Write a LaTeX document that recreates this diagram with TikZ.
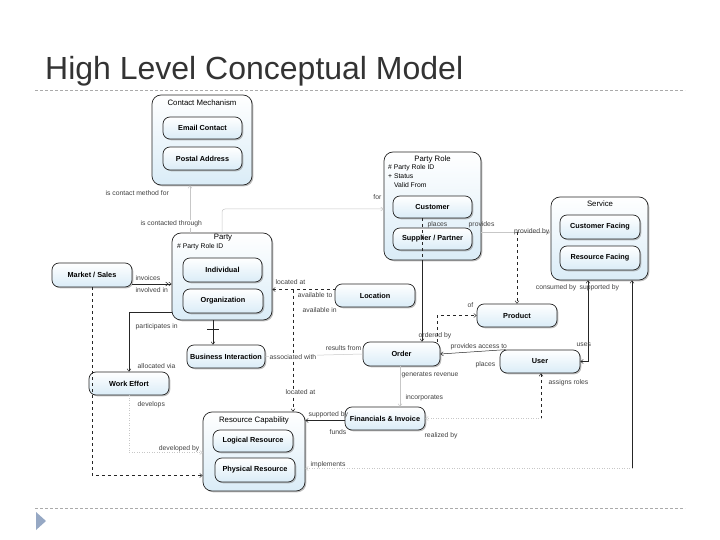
\documentclass[tikz,border=0pt]{standalone}
\usepackage{fontspec}
\setmainfont{Liberation Sans}
\usetikzlibrary{arrows.meta,shadows,calc}
\definecolor{boxblue}{RGB}{218,236,247}
\definecolor{rulegray}{RGB}{170,170,170}
\definecolor{bulletblue}{RGB}{150,168,196}

\begin{document}
\begin{tikzpicture}[
                x=1pt, y=-1pt,
                entity/.style={draw=black!85, line width=0.7pt, rounded corners=7pt,
                    top color=white, bottom color=boxblue,
                    drop shadow={shadow xshift=1.3pt, shadow yshift=-1.3pt, fill=black!50},
                    font=\fontsize{7.3}{8}\selectfont\bfseries, inner sep=0pt},
                group/.style={entity, rounded corners=9pt},
                grptitle/.style={font=\fontsize{7.8}{8}\selectfont, inner sep=0pt},
                attr/.style={font=\fontsize{6.8}{7}\selectfont, anchor=west, inner sep=0pt},
                rel/.style={black!85, line width=0.5pt},
                faint/.style={black!22, line width=0.5pt},
                lbl/.style={font=\fontsize{6.8}{7}\selectfont, text=black!75, inner sep=0.5pt, anchor=west},
                arr/.style={-{Straight Barb[length=2.5pt,width=4pt]}},
                rarr/.style={{Straight Barb[length=2.5pt,width=4pt]}-},
                arrs/.style={{Straight Barb[length=2.5pt,width=4pt]}-{Straight Barb[length=2.5pt,width=4pt]}}
            ]
                \useasboundingbox (0,0) rectangle (720,540);
                \node[anchor=base west, font=\fontsize{32}{34}\selectfont, text=black!80, inner sep=0pt] (title) at (45,80) {High Level Conceptual Model};
                \draw[rulegray, line width=0.6pt, dash pattern=on 3pt off 2pt] (35,90) -- (685,90);
                \draw[rulegray, line width=0.6pt, dash pattern=on 3pt off 2pt] (35,508) -- (685,508);
                \fill[bulletblue] (36,512) -- (46,521) -- (36,530) -- cycle;

                \node[group, minimum width=100pt, minimum height=90pt] (cm) at (202,140) {};
                \node[grptitle] (cmtitle) at (202,103) {Contact Mechanism};
                \node[entity, minimum width=79pt, minimum height=22pt] (email) at (202.5,128) {Email Contact};
                \node[entity, minimum width=79pt, minimum height=23pt] (postal) at (202.5,158.5) {Postal Address};

                \node[group, minimum width=97pt, minimum height=108pt] (partyrole) at (432.5,206) {};
                \node[grptitle] (prtitle) at (432.5,159) {Party Role};
                \node[attr] (pr1) at (388,168) {\# Party Role ID};
                \node[attr] (pr2) at (388,176.5) {+ Status};
                \node[attr] (pr3) at (394,185) {Valid From};
                \node[entity, minimum width=79pt, minimum height=22pt] (customer) at (432.5,207) {Customer};
                \node[entity, minimum width=79pt, minimum height=22pt] (supplier) at (432.5,239) {Supplier / Partner};

                \node[group, minimum width=97pt, minimum height=83pt] (service) at (599.5,238.5) {};
                \node[grptitle] (svtitle) at (600,204) {Service};
                \node[entity, minimum width=80pt, minimum height=24pt] (custfacing) at (600,227) {Customer Facing};
                \node[entity, minimum width=80pt, minimum height=24pt] (resfacing) at (600,258) {Resource Facing};

                \node[group, minimum width=100pt, minimum height=87pt] (party) at (222,276.5) {};
                \node[grptitle] (ptitle) at (223,238) {Party};
                \node[attr] (p1) at (177,247) {\# Party Role ID};
                \node[entity, minimum width=79pt, minimum height=24pt] (individual) at (222.5,270) {Individual};
                \node[entity, minimum width=80pt, minimum height=24pt] (organization) at (223,301) {Organization};

                \node[group, minimum width=102pt, minimum height=79pt] (rescap) at (254,451.5) {};
                \node[grptitle] (rctitle) at (254,420) {Resource Capability};
                \node[entity, minimum width=80pt, minimum height=22pt] (logical) at (253,441) {Logical Resource};
                \node[entity, minimum width=80pt, minimum height=24pt] (physical) at (255,470) {Physical Resource};

                \node[entity, minimum width=80pt, minimum height=24pt] (market) at (92,275) {Market / Sales};
                \node[entity, minimum width=80pt, minimum height=23pt] (location) at (375,295.5) {Location};
                \node[entity, minimum width=80pt, minimum height=23pt] (product) at (517,315.5) {Product};
                \node[entity, minimum width=78pt, minimum height=23pt] (bizint) at (226,356.5) {Business Interaction};
                \node[entity, minimum width=77pt, minimum height=24pt] (order) at (401.5,354) {Order};
                \node[entity, minimum width=80pt, minimum height=23pt] (user) at (540,361.5) {User};
                \node[entity, minimum width=80pt, minimum height=23pt] (workeffort) at (129,383.5) {Work Effort};
                \node[entity, minimum width=80pt, minimum height=23pt] (financials) at (385,418.5) {Financials \& Invoice};

                \coordinate (xcm) at (190,0);
                \coordinate (xloc) at (293,0);
                \coordinate (xco) at (422,0);
                \coordinate (xop) at (437,0);
                \coordinate (xof) at (400,0);
                \coordinate (xuf) at (541,0);
                \coordinate (xus) at (588,0);
                \coordinate (xsr) at (632,0);
                \coordinate (bi) at ([xshift=-13pt]bizint.north);
                \coordinate (lw) at ([yshift=6pt]location.west);
                \coordinate (ps) at ([yshift=-26pt]partyrole.east);
                \coordinate (ri) at ([yshift=-17pt]rescap.east);

                \draw[faint, rarr] (cm.south -| xcm) -- (party.north -| xcm);
                \draw[faint, rounded corners=3pt, arr] (party.north) |- ([yshift=-3pt]partyrole.west);
                \draw[rel, -{Straight Barb[length=2.5pt,width=4pt] Straight Barb[length=2.5pt,width=4pt]}] ([yshift=-9pt]market.east) coordinate (ms) -- (ms -| party.west);
                \draw[rel, dashed, arr] (market.south) |- ([yshift=-24pt]rescap.west);
                \draw[rel, arr] ([yshift=-36pt]party.west) -| (workeffort.north);
                \draw[faint, dotted, arr] (workeffort.south) |- ([yshift=-1pt]rescap.west);
                \draw[rel, arr] (party.south -| bi) -- (bi);
                \draw[rel] ($(bi)+(-6,-15)$) -- ($(bi)+(6,-15)$);
                \draw[rel, dashed, rarr] (party.east |- lw) -- (lw);
                \draw[rel, dashed, arr] (lw -| xloc) -- (rescap.north -| xloc);
                \draw[faint] (bizint.east) -- (order.west);
                \draw[rel, dashed] (customer.south -| xco) -- (partyrole.south -| xco);
                \draw[rel, arr] (partyrole.south -| xco) -- (order.north -| xco);
                \draw[rel, dashed, arr] (order.north -| xop) |- (product.west);
                \draw[faint, arr] (ps) -- (ps -| service.west);
                \draw[rel, dashed, arr] (ps -| product.north) -- (product.north);
                \draw[rel, arr] ([xshift=6pt]user.north west) -- (order.east);
                \draw[rel, arrs] (service.south -| xus) |- (user.east);
                \draw[rel, rarr] (service.south -| xsr) -- (xsr |- ri);
                \draw[faint, dotted, arr] (xsr |- ri) -- (ri);
                \draw[rel, dashed, rarr] (user.south -| xuf) -- (xuf |- financials.east);
                \draw[faint, dotted, arr] (xuf |- financials.east) -- (financials.east);
                \draw[faint, arr] (order.south -| xof) -- (financials.north -| xof);
                \draw[rel, arr] ([yshift=-2pt]financials.west) coordinate (fw) -- (fw -| rescap.east);

                \node[lbl, fill=white] (l1) at (105,193) {is contact method for};
                \node[lbl, fill=white] (l2) at (140,224) {is contacted through};
                \node[lbl, anchor=east] (l3) at (382,197) {for};
                \node[lbl] (l4) at (135,278) {invoices};
                \node[lbl] (l5) at (135,290) {involved in};
                \node[lbl] (l6) at (135,327) {participates in};
                \node[lbl] (l7) at (137,366) {allocated via};
                \node[lbl] (l8) at (137,405) {develops};
                \node[lbl, anchor=east] (l9) at (200,449) {developed by};
                \node[lbl] (l10) at (275,282) {located at};
                \node[lbl, anchor=east] (l11) at (333,295) {available to};
                \node[lbl] (l12) at (302,310) {available in};
                \node[lbl, fill=white] (l13) at (285,392) {located at};
                \node[lbl, fill=white] (l14) at (269,357) {associated with};
                \node[lbl, anchor=east, fill=white] (l15) at (362,348) {results from};
                \node[lbl] (l16) at (427,225) {places};
                \node[lbl] (l17) at (468,225) {provides};
                \node[lbl, anchor=east] (l18) at (550,232) {provided by};
                \node[lbl, anchor=east] (l19) at (474,305) {of};
                \node[lbl] (l20) at (418,336) {ordered by};
                \node[lbl] (l21) at (450,347) {provides access to};
                \node[lbl, anchor=east] (l22) at (496,365) {places};
                \node[lbl] (l23) at (576,345) {uses};
                \node[lbl, anchor=east] (l24) at (577,288) {consumed by};
                \node[lbl] (l25) at (579,288) {supported by};
                \node[lbl] (l26) at (401,375) {generates revenue};
                \node[lbl] (l27) at (405,398) {incorporates};
                \node[lbl] (l28) at (548,383) {assigns roles};
                \node[lbl] (l29) at (308,415) {supported by};
                \node[lbl] (l30) at (329,432) {funds};
                \node[lbl] (l31) at (424,436) {realized by};
                \node[lbl] (l32) at (310,465) {implements};
            \end{tikzpicture}
\end{document}
